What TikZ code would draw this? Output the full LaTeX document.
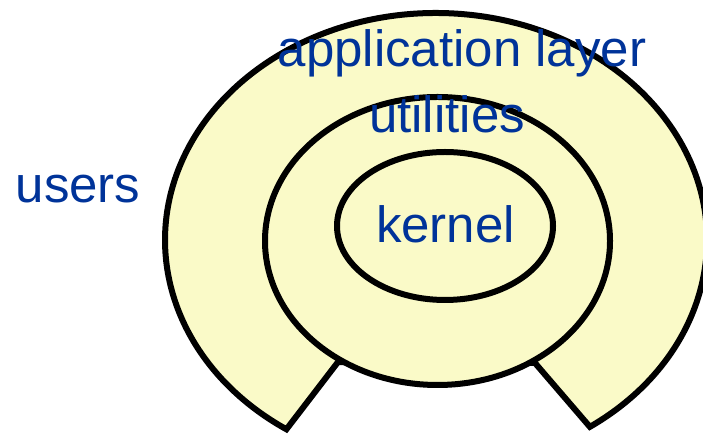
\documentclass[tikz,border=0pt]{standalone}
\usepackage{fontspec}
\setmainfont{Liberation Sans}
\usetikzlibrary{positioning}
\definecolor{layerfill}{RGB}{250,250,200}
\definecolor{labelblue}{RGB}{0,51,153}
\tikzstyle{layer} = [draw=black, line width=6pt, fill=layerfill]
\tikzstyle{layername} = [text=labelblue, inner sep=0pt, anchor=base,
    font=\fontsize{51}{60}\selectfont]

\begin{document}
\begin{tikzpicture}[x=1pt, y=1pt]
    \useasboundingbox (0,0) rectangle (703,435);

    \coordinate (outerCentre) at (436,195);
    \coordinate (leftCut) at (338,73);
    \coordinate (rightCut) at (535,72);

    % application layer ring, open at the bottom
    \path[layer] ([shift={(-55.4:271 and 227)}]outerCentre)
        arc[start angle=-55.4, end angle=236.5, x radius=271, y radius=227]
        -- (leftCut) -- (rightCut) -- cycle;
    % utilities
    \path[layer] (437.5,194) ellipse [x radius=172.5, y radius=144];
    % kernel
    \path[layer] (445,209) ellipse [x radius=108, y radius=74];

    \node[layername] (users) at (78,232) {users};
    \node[layername] (appLayer) at (462,368) {application layer};
    \node[layername] (utilities) at (447,302) {utilities};
    \node[layername] (kernel) at (445.5,192) {kernel};
\end{tikzpicture}
\end{document}
